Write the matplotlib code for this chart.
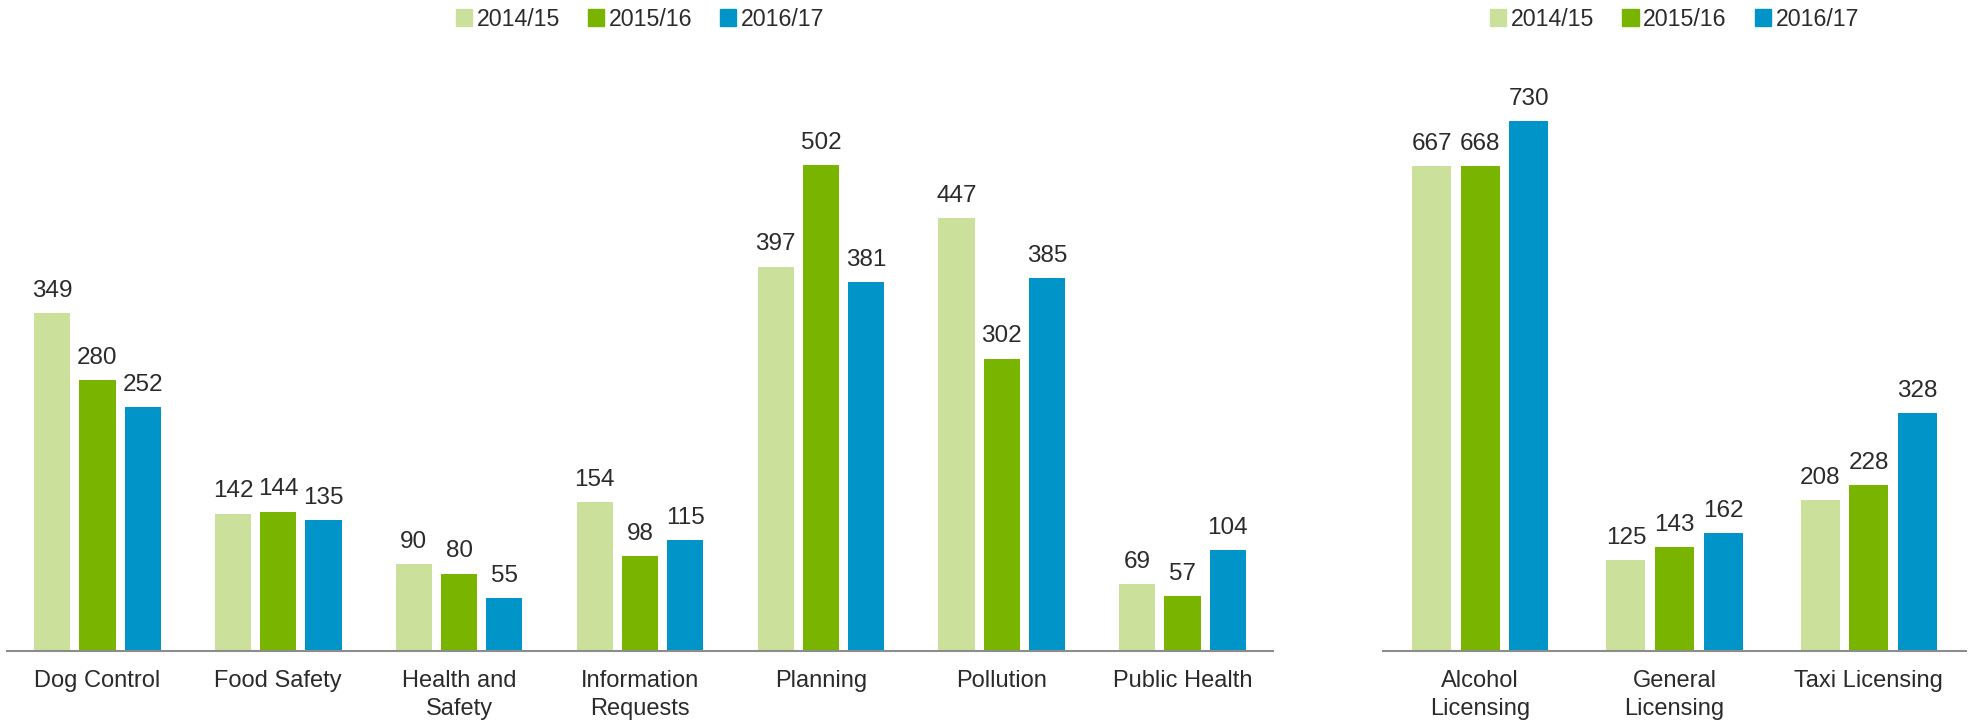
import matplotlib.pyplot as plt
import numpy as np
from matplotlib.patches import Patch

plt.rcParams['font.family'] = ['Liberation Sans', 'DejaVu Sans']

# service requests by year
years = ['2014/15', '2015/16', '2016/17']
colors = ['#cbe19b', '#79b400', '#0094c8']

left_cats = ['Dog Control', 'Food Safety', 'Health and\nSafety', 'Information\nRequests',
             'Planning', 'Pollution', 'Public Health']
left_vals = [
    [349, 142, 90, 154, 397, 447, 69],
    [280, 144, 80, 98, 502, 302, 57],
    [252, 135, 55, 115, 381, 385, 104],
]

right_cats = ['Alcohol\nLicensing', 'General\nLicensing', 'Taxi Licensing']
right_vals = [
    [667, 125, 208],
    [668, 143, 228],
    [730, 162, 328],
]

W, H = 1973, 721
fig = plt.figure(figsize=(W / 100, H / 100), dpi=100)

base_px = 651
top_px = 40
txt = '#2b2b2b'


def panel(x0, x1, cats, vals, ymax):
    ax = fig.add_axes([x0 / W, (H - base_px) / H, (x1 - x0) / W, (base_px - top_px) / H])
    x = np.arange(len(cats))
    for i, series in enumerate(vals):
        bars = ax.bar(x + (i - 1) * 0.25, series, width=0.2, color=colors[i], zorder=2)
        for b, v in zip(bars, series):
            ax.annotate(str(v), (b.get_x() + b.get_width() / 2, v), xytext=(0, 8),
                        textcoords='offset points', ha='center', va='bottom',
                        fontsize=17.5, color=txt)
    ax.set_xlim(-0.5, len(cats) - 0.5)
    ax.set_ylim(0, ymax)
    ax.set_xticks(x)
    ax.set_xticklabels(cats, fontsize=17, color=txt, linespacing=1.3)
    ax.tick_params(axis='x', length=0, pad=14)
    ax.set_yticks([])
    for s in ['top', 'right', 'left']:
        ax.spines[s].set_visible(False)
    ax.spines['bottom'].set_color('#8c8c8c')
    ax.spines['bottom'].set_linewidth(1.5)
    ax.spines['bottom'].set_zorder(3)
    handles = [Patch(color=c, label=y) for c, y in zip(colors, years)]
    fig.legend(handles=handles, loc='center', ncol=3, frameon=False,
               bbox_to_anchor=((x0 + x1) / 2 / W, 1 - 19 / H),
               fontsize=16.7, handlelength=0.7, handleheight=0.7,
               handletextpad=0.2, columnspacing=1.2, labelcolor=txt)
    return ax


panel(7, 1273, left_cats, left_vals, 631)
panel(1383, 1966, right_cats, right_vals, 841)

fig.savefig('out.png', dpi=100)
